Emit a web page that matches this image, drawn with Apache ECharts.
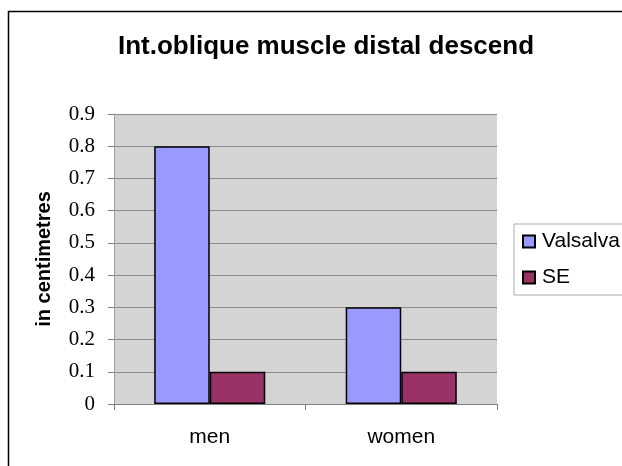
<!DOCTYPE html>
<html>
<head>
<meta charset="utf-8">
<script src="https://cdn.jsdelivr.net/npm/echarts@6/dist/echarts.min.js"></script>
<style>html,body{margin:0;padding:0;background:#fff;}#c{width:622px;height:466px;}</style>
</head>
<body>
<div id="c"></div>
<script>
var categories = ['men', 'women'];
var valsalva = [0.8, 0.3];
var se = [0.1, 0.1];
var seriesNames = ['Valsalva', 'SE'];
var titleText = 'Int.oblique muscle distal descend';
var yAxisName = 'in centimetres';

var chart = echarts.init(document.getElementById('c'), null, {renderer: 'canvas'});
chart.setOption({
  animation: false,
  backgroundColor: '#ffffff',
  title: {
    text: titleText,
    left: 321, textAlign: 'center', top: 29,
    textStyle: {fontFamily: 'Arial, Liberation Sans', fontWeight: 'bold', fontSize: 26, color: '#000'}
  },
  graphic: [{
    type: 'rect', z: -1, silent: true,
    shape: {x: 8.5, y: 11.5, width: 700, height: 600},
    style: {fill: 'none', stroke: '#000', lineWidth: 1.5}
  }],
  legend: {
    orient: 'vertical', left: 514, top: 224,
    data: seriesNames,
    icon: 'rect', itemWidth: 12, itemHeight: 12, itemGap: 15,
    borderColor: '#aaa', borderWidth: 1,
    padding: [7, 40, 7, 8],
    textStyle: {fontFamily: 'Arial, Liberation Sans', fontSize: 21, color: '#000', padding: [0, 0, 0, 2]}
  },
  grid: {left: 114, right: 125, top: 114, bottom: 62, show: true, backgroundColor: '#d4d4d4', borderWidth: 0},
  xAxis: {
    type: 'category', data: categories,
    axisLine: {lineStyle: {color: '#808080', width: 1}},
    axisTick: {show: true, length: 6, lineStyle: {color: '#808080'}},
    axisLabel: {fontFamily: 'Arial, Liberation Sans', fontSize: 21, color: '#000', margin: 23}
  },
  yAxis: {
    type: 'value', min: 0, max: 0.9, interval: 0.1,
    name: yAxisName, nameLocation: 'middle', nameGap: 60,
    nameTextStyle: {fontFamily: 'Arial, Liberation Sans', fontWeight: 'bold', fontSize: 20, color: '#000'},
    axisLine: {show: true, lineStyle: {color: '#a0a0a0', width: 1}},
    axisTick: {show: true, length: 6, lineStyle: {color: '#808080'}},
    axisLabel: {fontFamily: 'Times New Roman, Liberation Serif', fontSize: 21, color: '#000', margin: 19,
      formatter: function (v) { return String(Math.round(v * 10) / 10); }},
    splitLine: {show: true, lineStyle: {color: '#8c8c8c', width: 1}}
  },
  series: [
    {name: seriesNames[0], type: 'bar', data: valsalva, barGap: '0%', barCategoryGap: '42%',
      itemStyle: {color: '#9999ff', borderColor: '#000', borderWidth: 1.5}},
    {name: seriesNames[1], type: 'bar', data: se, barGap: '0%', barCategoryGap: '42%',
      itemStyle: {color: '#993366', borderColor: '#000', borderWidth: 1.5}}
  ]
});
</script>
</body>
</html>
